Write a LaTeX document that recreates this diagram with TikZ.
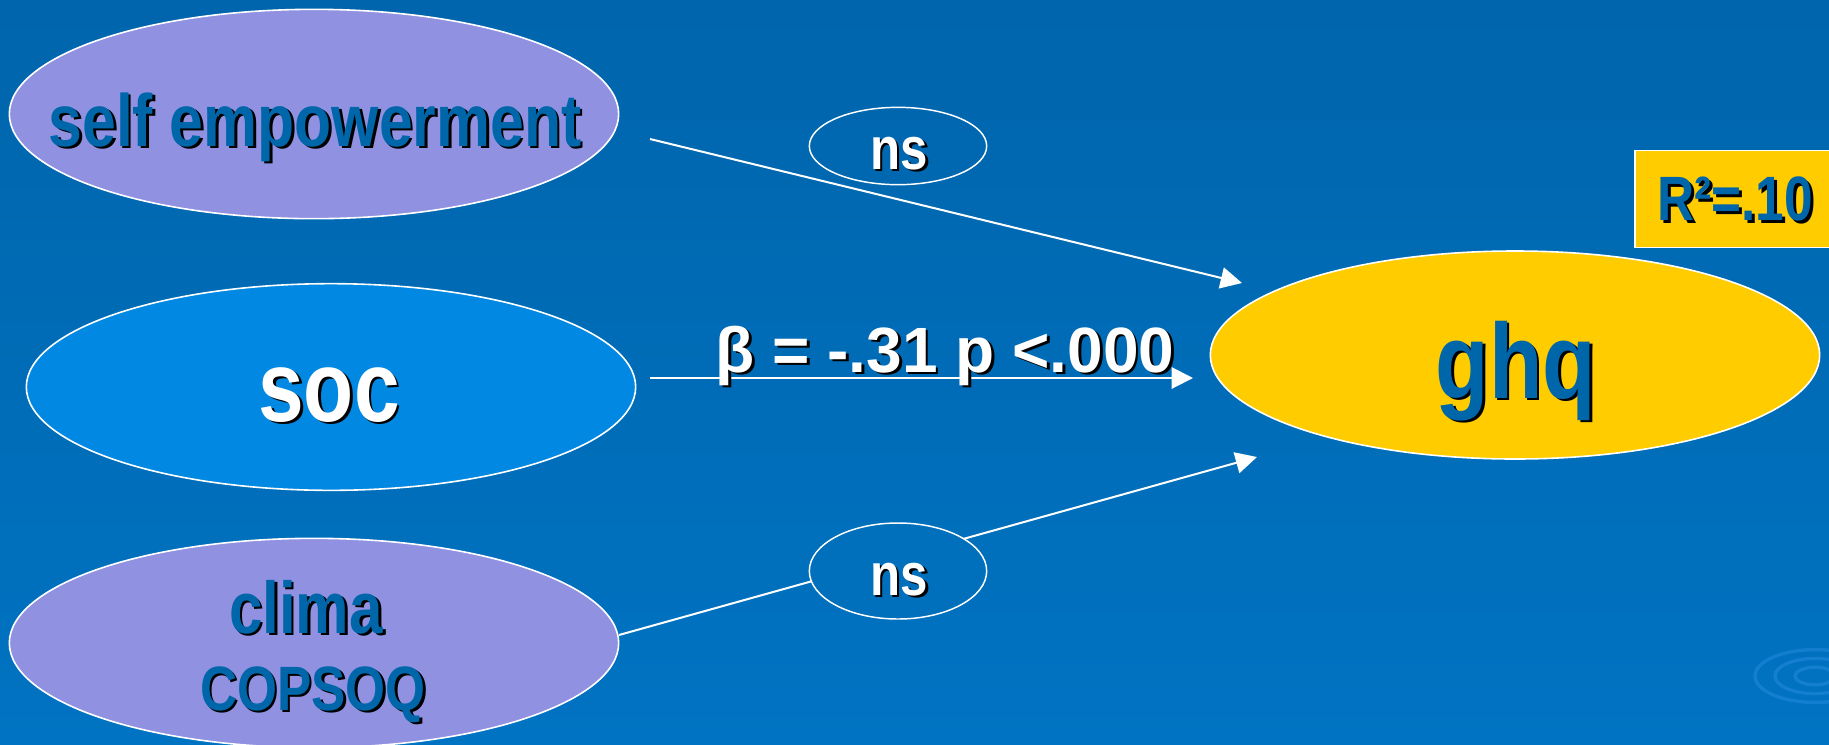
\documentclass[tikz,border=0pt]{standalone}
\usepackage{fontspec}
\usepackage{xcolor}
\usetikzlibrary{shapes.geometric, arrows.meta, positioning, calc}
\setmainfont{Liberation Sans}
\newfontfamily\narrowsans{Liberation Sans}[FakeStretch=0.82]
\definecolor{cBgTop}{RGB}{0,101,172}
\definecolor{cBgBot}{RGB}{0,115,194}
\definecolor{cBgMid}{RGB}{0,111,188}
\definecolor{cLilac}{RGB}{145,145,226}
\definecolor{cSky}{RGB}{0,136,226}
\definecolor{cGold}{RGB}{255,204,0}
\definecolor{cInk}{RGB}{0,102,170}
\definecolor{cRipple}{RGB}{40,140,222}
% text with a black drop shadow
\newcommand{\shadowed}[2]{\rlap{\smash{\kern2pt\raisebox{-2pt}{\color{black}#2}}}{\color{#1}#2}}
\tikzset{
	latent/.style={ellipse, draw=white, line width=1.2pt, minimum width=457pt, minimum height=157pt, inner sep=0pt},
	nsbubble/.style={ellipse, draw=white, line width=1.1pt, minimum width=133pt, inner sep=0pt},
	lbl/.style={anchor=base, inner sep=0pt},
	effect/.style={draw=white, line width=1.5pt, -{Triangle[length=16pt, width=16pt]}},
	rbox/.style={rectangle, draw=white, line width=1.2pt, fill=cGold, anchor=west, text width=150pt, inner xsep=17pt, minimum height=73pt, align=left, font=\narrowsans\bfseries\fontsize{47}{50}\selectfont},
}

\begin{document}
\begin{tikzpicture}[x=0.75pt, y=-0.75pt]
	% slide backdrop, in pixels
	\useasboundingbox (0,0) rectangle (1829,744);
	\clip (0,0) rectangle (1829,744);
	\fill[top color=cBgTop, bottom color=cBgBot] (0,0) rectangle (1829,744);
	\foreach \r in {20,40,60} {
		\draw[cRipple, line width=2.5pt, opacity=0.5] (1815,676) ellipse [x radius=\r*0.75pt, y radius=\r*0.33pt];
	}
	% latent variables
	\node[latent, fill=cLilac] (selfemp) at (314,114) {};
	\node[latent, fill=cSky, minimum height=155pt] (soc) at (331,387) {};
	\node[latent, fill=cLilac] (clima) at (314,643) {};
	\node[latent, fill=cGold, minimum height=156pt] (ghq) at (1515,355) {};
	\node[lbl, font=\narrowsans\bfseries\fontsize{55.5}{60}\selectfont] (selfemp-txt) at (315,146) {\shadowed{cInk}{self empowerment}};
	\node[lbl, font=\narrowsans\bfseries\fontsize{75}{80}\selectfont] (soc-txt) at (329,421) {\shadowed{white}{soc}};
	\node[lbl, font=\narrowsans\bfseries\fontsize{55}{60}\selectfont] (clima-txt) at (306,633) {\shadowed{cInk}{clima}};
	\node[lbl, font=\narrowsans\bfseries\fontsize{47}{50}\selectfont] (copsoq-txt) at (313,710) {\shadowed{cInk}{COPSOQ}};
	\node[lbl, font=\narrowsans\bfseries\fontsize{80}{90}\selectfont] (ghq-txt) at (1516,398) {\shadowed{cInk}{ghq}};
	\node[rbox] (rsq) at (1634,199) {\shadowed{cInk}{R²=.10}};
	% paths
	\coordinate (selfemp-out) at (650,139);
	\coordinate (soc-out) at (650,378);
	\coordinate (clima-out) at (619,635);
	\coordinate (ghq-in1) at (1242,283);
	\coordinate (ghq-in2) at (1193,378);
	\coordinate (ghq-in3) at (1257,457);
	\draw[effect] (selfemp-out) -- (ghq-in1);
	\draw[effect] (soc-out) -- (ghq-in2);
	\draw[effect] (clima-out) -- (ghq-in3);
	\node[nsbubble, minimum height=58pt] (ns1) at (898,146) {};
	\node[nsbubble, fill=cBgMid, minimum height=72pt] (ns2) at (898,571) {};
	\node[lbl, font=\narrowsans\bfseries\fontsize{45}{50}\selectfont] (ns1-txt) at (899,169) {\shadowed{white}{ns}};
	\node[lbl, font=\narrowsans\bfseries\fontsize{45}{50}\selectfont] (ns2-txt) at (899,595) {\shadowed{white}{ns}};
	\node[lbl, font=\bfseries\fontsize{48}{52}\selectfont] (beta) at (945,372) {\shadowed{white}{β = -.31 p <.000}};
\end{tikzpicture}
\end{document}
